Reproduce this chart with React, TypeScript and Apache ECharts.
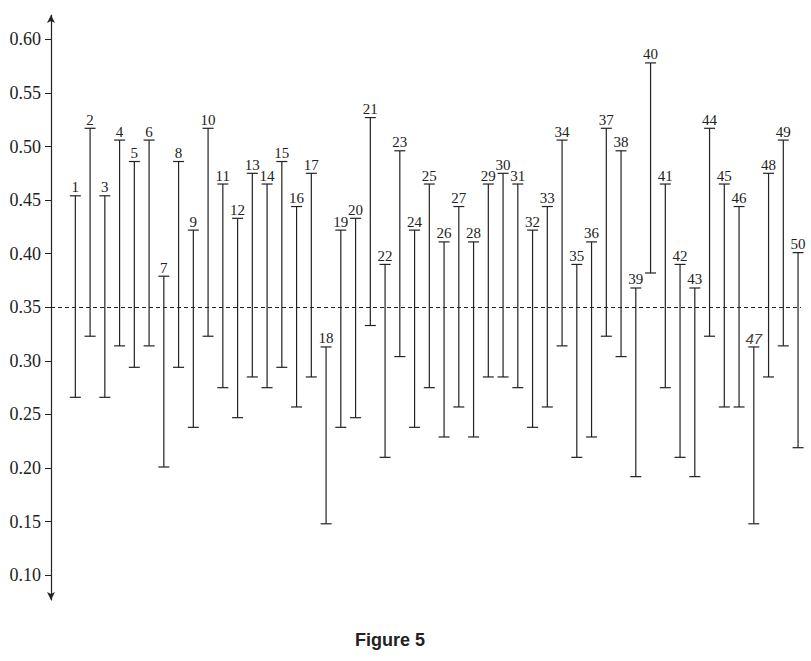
import React, { useEffect, useRef } from 'react';
import * as echarts from 'echarts';

// interval number printed above each bar
const labels = [
  '1', '2', '3', '4', '5', '6', '7', '8', '9', '10',
  '11', '12', '13', '14', '15', '16', '17', '18', '19', '20',
  '21', '22', '23', '24', '25', '26', '27', '28', '29', '30',
  '31', '32', '33', '34', '35', '36', '37', '38', '39', '40',
  '41', '42', '43', '44', '45', '46', '47', '48', '49', '50',
];

// lower ends of the intervals
const lows = [
  0.266, 0.323, 0.266, 0.314, 0.294, 0.314, 0.201, 0.294, 0.238, 0.323,
  0.275, 0.247, 0.285, 0.275, 0.294, 0.257, 0.285, 0.148, 0.238, 0.247,
  0.333, 0.21, 0.304, 0.238, 0.275, 0.229, 0.257, 0.229, 0.285, 0.285,
  0.275, 0.238, 0.257, 0.314, 0.21, 0.229, 0.323, 0.304, 0.192, 0.382,
  0.275, 0.21, 0.192, 0.323, 0.257, 0.257, 0.148, 0.285, 0.314, 0.219,
];

// upper ends of the intervals
const highs = [
  0.454, 0.517, 0.454, 0.506, 0.486, 0.506, 0.379, 0.486, 0.422, 0.517,
  0.465, 0.433, 0.475, 0.465, 0.486, 0.444, 0.475, 0.313, 0.422, 0.433,
  0.527, 0.39, 0.496, 0.422, 0.465, 0.411, 0.444, 0.411, 0.465, 0.475,
  0.465, 0.422, 0.444, 0.506, 0.39, 0.411, 0.517, 0.496, 0.368, 0.578,
  0.465, 0.39, 0.368, 0.517, 0.465, 0.444, 0.313, 0.475, 0.506, 0.401,
];

const yTicks = [0.1, 0.15, 0.2, 0.25, 0.3, 0.35, 0.4, 0.45, 0.5, 0.55, 0.6];
const referenceValue = 0.35;

const INK = '#222';
const CAP = 5.5;
const SERIF = '"Liberation Serif", "Times New Roman", serif';

const App: React.FC = () => {
  const chartRef = useRef<HTMLDivElement>(null);

  useEffect(() => {
    if (!chartRef.current) return;
    const chart = echarts.init(chartRef.current, null, { renderer: 'svg' });

    const data = labels.map((_, i) => [i + 1, lows[i], highs[i]]);

    const option: any = {
      animation: false,
      backgroundColor: '#fff',
      title: {
        text: 'Figure 5',
        left: 385,
        textAlign: 'center',
        top: 626,
        textStyle: {
          fontFamily: '"Liberation Sans", Arial, sans-serif',
          fontSize: 18,
          fontWeight: 'bold',
          color: INK,
        },
      },
      grid: {
        left: 51,
        right: 10,
        top: 15,
        bottom: 61,
        containLabel: false,
        outerBoundsMode: 'none',
      },
      xAxis: {
        type: 'value',
        min: -0.65,
        max: 50.2,
        show: false,
      },
      yAxis: {
        type: 'value',
        min: 0.0769,
        max: 0.6227,
        axisLine: {
          show: true,
          onZero: false,
          symbol: ['arrow', 'arrow'],
          symbolSize: [6, 8],
          lineStyle: { color: INK, width: 1.2 },
        },
        axisTick: {
          show: true,
          length: 6,
          customValues: yTicks,
          lineStyle: { color: INK, width: 1 },
        },
        axisLabel: {
          customValues: yTicks,
          margin: 10,
          formatter: (v: number) => v.toFixed(2),
          color: INK,
          fontSize: 18,
          fontFamily: SERIF,
        },
        splitLine: { show: false },
      },
      series: [
        {
          type: 'line',
          data: [],
          silent: true,
          markLine: {
            silent: true,
            symbol: ['none', 'none'],
            label: { show: false },
            lineStyle: { color: INK, width: 1, type: [4, 3] },
            data: [{ yAxis: referenceValue }],
          },
        },
        {
          type: 'custom',
          data,
          renderItem: (params: any, api: any) => {
            const x = api.value(0);
            const top = api.coord([x, api.value(2)]);
            const bot = api.coord([x, api.value(1)]);
            const name = labels[params.dataIndex];
            const odd = name === '47';
            const stroke = { stroke: INK, lineWidth: 1.2 };
            return {
              type: 'group',
              children: [
                { type: 'line', shape: { x1: top[0], y1: top[1], x2: bot[0], y2: bot[1] }, style: stroke },
                { type: 'line', shape: { x1: top[0] - CAP, y1: top[1], x2: top[0] + CAP, y2: top[1] }, style: stroke },
                { type: 'line', shape: { x1: bot[0] - CAP, y1: bot[1], x2: bot[0] + CAP, y2: bot[1] }, style: stroke },
                {
                  type: 'text',
                  x: top[0],
                  y: top[1] - 1,
                  style: {
                    text: name,
                    fill: odd ? '#444' : INK,
                    font: odd
                      ? 'italic 15px "Liberation Sans", Arial, sans-serif'
                      : '15px ' + SERIF,
                    align: 'center',
                    verticalAlign: 'bottom',
                  },
                },
              ],
            };
          },
        },
      ],
    };

    chart.setOption(option);

    return () => {
      chart.dispose();
    };
  }, []);

  return (
    <div
      ref={chartRef}
      style={{ position: 'fixed', left: 0, top: 0, width: '811px', height: '661px' }}
    />
  );
};

export default App;
